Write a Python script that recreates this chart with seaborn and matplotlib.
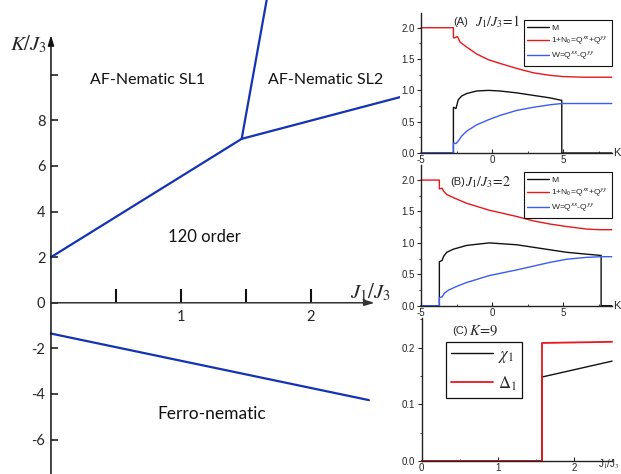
import numpy as np
import pandas as pd
import matplotlib
matplotlib.use("Agg")
import matplotlib.pyplot as plt
import seaborn as sns
from matplotlib.ticker import MultipleLocator, FixedLocator, FormatStrFormatter

sns.set_theme(style="ticks")
plt.rcParams['font.family'] = ['Liberation Sans', 'DejaVu Sans']
plt.rcParams['mathtext.fontset'] = 'stix'

# ---------------- data: phase diagram (J1/J3, K/J3) ----------------
sl1_120_x = [0.0, 1.467]
sl1_120_k = [2.0, 7.19]
sl1_sl2_x = [1.467, 1.66]
sl1_sl2_k = [7.19, 13.3]
sl2_120_x = [1.467, 2.685]
sl2_120_k = [7.19, 9.02]
ferro_x = [0.0, 2.446]
ferro_k = [-1.35, -4.27]
region_names = ["AF-Nematic SL1", "AF-Nematic SL2", "120 order", "Ferro-nematic"]
region_x = [0.74, 2.11, 1.18, 1.24]
region_k = [9.77, 9.77, 2.9, -4.88]
phase_yticks = [-6, -4, -2, 0, 2, 4, 6, 8, 10]
phase_yticklabels = ["-6", "-4", "-2", "0", "2", "4", "6", "8", ""]
phase_xticks = [0.5, 1.0, 1.5, 2.0]
phase_xticklabels = ["", "1", "", "2"]

# ---------------- data: panel A (J1/J3 = 1) ----------------
A_M_K = [-5.0, -2.72, -2.72, -2.54, -2.38, -2.14, -1.78, -1.08, -0.26, 0.56, 1.74, 2.91, 4.08, 4.91, 4.91, 8.43]
A_M_v = [0.0, 0.0, 0.73, 0.71, 0.85, 0.91, 0.95, 0.99, 1.0, 0.99, 0.96, 0.92, 0.88, 0.84, 0.0, 0.0]
A_N_K = [-5.0, -2.72, -2.72, -2.61, -2.44, -2.25, -1.78, -1.08, -0.26, 0.56, 1.74, 2.91, 4.08, 5.02, 6.43, 8.43]
A_N_v = [2.0, 2.0, 1.84, 1.84, 1.86, 1.77, 1.69, 1.58, 1.49, 1.43, 1.35, 1.28, 1.24, 1.22, 1.21, 1.21]
A_W_K = [-5.0, -2.72, -2.72, -2.54, -2.38, -2.14, -1.78, -1.08, -0.26, 0.56, 1.74, 2.91, 4.08, 4.91, 8.43]
A_W_v = [0.0, 0.0, 0.16, 0.15, 0.19, 0.27, 0.35, 0.45, 0.53, 0.60, 0.68, 0.73, 0.77, 0.79, 0.79]

# ---------------- data: panel B (J1/J3 = 2) ----------------
B_M_K = [-5.0, -3.71, -3.71, -3.52, -3.40, -3.19, -2.72, -1.78, -0.19, 1.74, 2.91, 4.08, 5.26, 6.67, 7.68, 7.68, 8.43]
B_M_v = [0.0, 0.0, 0.70, 0.72, 0.79, 0.85, 0.90, 0.96, 1.0, 0.97, 0.93, 0.89, 0.85, 0.82, 0.80, 0.0, 0.0]
B_N_K = [-5.0, -3.71, -3.71, -3.52, -3.40, -3.19, -2.72, -1.78, -0.19, 1.74, 2.91, 4.08, 5.26, 6.67, 7.61, 8.43]
B_N_v = [2.0, 2.0, 1.86, 1.87, 1.82, 1.77, 1.72, 1.63, 1.52, 1.42, 1.35, 1.30, 1.26, 1.22, 1.21, 1.21]
B_W_K = [-5.0, -3.71, -3.71, -3.52, -3.35, -3.05, -2.46, -1.78, -0.19, 1.74, 2.91, 4.08, 5.26, 6.67, 7.68, 8.43]
B_W_v = [0.0, 0.0, 0.13, 0.14, 0.20, 0.25, 0.31, 0.37, 0.48, 0.57, 0.63, 0.69, 0.74, 0.77, 0.78, 0.78]

series_labels = ["M", "1+N$_\\mathsf{0}$=Q$^\\mathsf{xx}$+Q$^\\mathsf{yy}$", "W=Q$^\\mathsf{xx}$-Q$^\\mathsf{yy}$"]
series_colors = ["#111111", "#e8171b", "#3a5cf2"]

# ---------------- data: panel C (K = 9) ----------------
C_chi_x = [0.0, 1.58, 1.58, 2.5]
C_chi_v = [0.0, 0.0, 0.148, 0.176]
C_del_x = [0.0, 1.58, 1.58, 2.5]
C_del_v = [0.0, 0.0, 0.208, 0.210]

W, H = 621, 474
fig = plt.figure(figsize=(W / 100, H / 100), dpi=100)


def fx(px):
    return px / W


def fy(py):
    return 1 - py / H


# ================= left: phase diagram =================
ax0 = fig.add_axes([0, 0, 400 / W, 1])
ax0.set_xlim(-0.392, 2.685)
ax0.set_ylim(-7.51, 13.28)
blue = "#1432b4"
for xs, ks in [(sl1_120_x, sl1_120_k), (sl1_sl2_x, sl1_sl2_k), (sl2_120_x, sl2_120_k), (ferro_x, ferro_k)]:
    sns.lineplot(x=xs, y=ks, ax=ax0, color=blue, lw=1.6, sort=False, estimator=None)
region_sizes = [11.5, 11.5, 12, 12.5]
for name, xx, kk, fs in zip(region_names, region_x, region_k, region_sizes):
    ax0.text(xx, kk, name, ha="center", va="center", fontsize=fs, family=["Lato", "DejaVu Sans"], color="#111111")

ax0.spines["left"].set_position(("data", 0))
ax0.spines["bottom"].set_position(("data", 0))
for s in ["top", "right", "left", "bottom"]:
    ax0.spines[s].set_visible(False)
ax0.annotate("", xy=(0, 11.74), xytext=(0, -7.6),
             arrowprops=dict(arrowstyle="-|>,head_length=0.5,head_width=0.15", lw=1.1, color="#111111",
                             shrinkA=0, shrinkB=0))
ax0.annotate("", xy=(2.49, 0), xytext=(0, 0),
             arrowprops=dict(arrowstyle="-|>,head_length=0.5,head_width=0.15", lw=1.1, color="#333333",
                             shrinkA=0, shrinkB=0))
ax0.yaxis.set_major_locator(FixedLocator(phase_yticks))
ax0.set_yticklabels(phase_yticklabels)
ax0.xaxis.set_major_locator(FixedLocator(phase_xticks))
ax0.set_xticklabels(phase_xticklabels)
ax0.tick_params(axis="y", direction="in", length=5, width=1.1, pad=4, labelsize=10.5, color="#111111")
ax0.tick_params(axis="x", direction="in", length=10, width=1.5, pad=5, labelsize=10.5, color="#111111")
for lab in ax0.get_xticklabels() + ax0.get_yticklabels():
    lab.set_family(["Lato", "DejaVu Sans"])
ax0.set_xlabel("")
ax0.set_ylabel("")
ax0.text(-0.175, 11.35, "$K/J_3$", ha="center", va="center", fontsize=15)
ax0.text(2.46, 0.45, "$J_1/J_3$", ha="center", va="center", fontsize=15)


# ================= right panels =================
def style_right(ax, xlim, ylim, xmaj, xmin, ymaj, ymin, fmt):
    ax.set_xlim(*xlim)
    ax.set_ylim(*ylim)
    ax.xaxis.set_major_locator(MultipleLocator(xmaj))
    ax.xaxis.set_minor_locator(MultipleLocator(xmin))
    ax.yaxis.set_major_locator(MultipleLocator(ymaj))
    ax.yaxis.set_minor_locator(MultipleLocator(ymin))
    ax.yaxis.set_major_formatter(FormatStrFormatter(fmt))
    ax.xaxis.set_major_formatter(FormatStrFormatter("%g"))
    sns.despine(ax=ax)
    for s in ["left", "bottom"]:
        ax.spines[s].set_linewidth(1.0)
        ax.spines[s].set_color("#222222")
    ax.tick_params(axis="y", which="major", direction="out", length=3, width=0.8, pad=1.5, labelsize=7)
    ax.tick_params(axis="y", which="minor", direction="out", length=1.8, width=0.6)
    ax.tick_params(axis="x", which="major", direction="in", length=3, width=0.8, pad=1.5, labelsize=7)
    ax.tick_params(axis="x", which="minor", direction="in", length=1.8, width=0.6)
    ax.set_xlabel("")
    ax.set_ylabel("")


panel_tags = ["A", "B"]
panel_rects = [[0.678, fy(153), 0.3076, 140.3 / H], [0.678, fy(305.7), 0.3076, 140.7 / H]]
panel_series = [[(A_M_K, A_M_v), (A_N_K, A_N_v), (A_W_K, A_W_v)],
                [(B_M_K, B_M_v), (B_N_K, B_N_v), (B_W_K, B_W_v)]]
panel_titles = ["$J_1/J_3\\!=\\!1$", "$J_1/J_3\\!=\\!2$"]
title_y = [22, 182]
tag_x = [453, 450]
j_x = [475, 465]
leg_top = [20, 172]
k_y = [153, 305.7]

for i in range(2):
    ax = fig.add_axes(panel_rects[i])
    for (ks, vs), lab, col in zip(panel_series[i], series_labels, series_colors):
        sns.lineplot(x=ks, y=vs, ax=ax, color=col, lw=1.0, sort=False, estimator=None, label=lab, clip_on=False)
    style_right(ax, (-5, 8.45), (0, 2.24), 5, 2.5, 0.5, 0.25, "%.1f")
    leg = ax.legend(loc="upper right", bbox_to_anchor=(fx(612), fy(leg_top[i])), bbox_transform=fig.transFigure,
                    borderaxespad=0, fontsize=6.1, handlelength=2.5, handletextpad=0.3, borderpad=0.45,
                    labelspacing=0.35, frameon=True, fancybox=False, framealpha=1)
    leg.get_frame().set_edgecolor("#111111")
    leg.get_frame().set_linewidth(0.8)
    fig.text(fx(tag_x[i]), fy(title_y[i]), f"({panel_tags[i]})", ha="left", va="center", fontsize=8)
    fig.text(fx(j_x[i]), fy(title_y[i]), panel_titles[i], ha="left", va="center", fontsize=10)
    fig.text(fx(617), fy(k_y[i]), "K", ha="center", va="center", fontsize=8)

axC = fig.add_axes([0.679, fy(461), 0.3066, 143 / H])
sns.lineplot(x=C_chi_x, y=C_chi_v, ax=axC, color="#111111", lw=1.0, sort=False, estimator=None,
             label="$\\chi_1$", clip_on=False)
sns.lineplot(x=C_del_x, y=C_del_v, ax=axC, color="#e8171b", lw=1.3, sort=False, estimator=None,
             label="$\\Delta_1$", clip_on=False)
style_right(axC, (0, 2.5), (0, 0.252), 1, 0.5, 0.1, 0.05, "%.1f")
legC = axC.legend(loc="upper left", bbox_to_anchor=(fx(446), fy(342)), bbox_transform=fig.transFigure,
                  borderaxespad=0, fontsize=12, handlelength=2.5, handletextpad=0.3, borderpad=0.3,
                  labelspacing=0.55, frameon=True, fancybox=False, framealpha=1)
legC.get_frame().set_edgecolor("#111111")
legC.get_frame().set_linewidth(0.9)
fig.text(fx(452), fy(331), "(C)", ha="left", va="center", fontsize=8)
fig.text(fx(469), fy(331), "$K\\!=\\!9$", ha="left", va="center", fontsize=10.5)
fig.text(fx(609), fy(464), "J$_1$/J$_3$", ha="center", va="center", fontsize=7)

fig.savefig("out.png", dpi=100)
